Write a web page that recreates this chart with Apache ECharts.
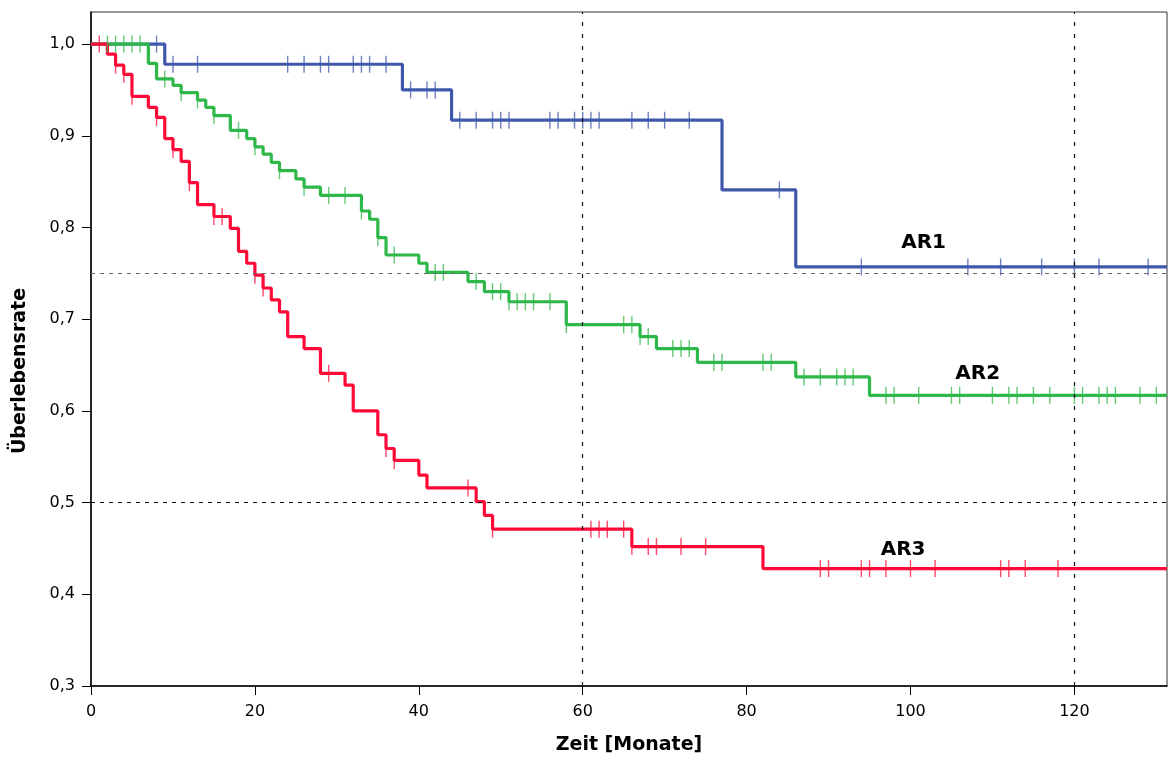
<!DOCTYPE html>
<html>
<head>
<meta charset="utf-8">
<title>Überlebensrate</title>
<script src="https://cdn.jsdelivr.net/npm/echarts@6/dist/echarts.min.js"></script>
<style>
  html, body { margin: 0; padding: 0; background: #fff; }
  #chart { width: 1169px; height: 760px; }
</style>
</head>
<body>
<div id="chart"></div>
<script>
// Kaplan–Meier estimates per group: event times [months] and survival after each step
const groupNames = ['AR1', 'AR2', 'AR3'];

const ar1Times = [0, 9, 38, 44, 77, 86];
const ar1Surv  = [1.0, 0.978, 0.950, 0.917, 0.841, 0.757];
const ar1Censored = [8, 10, 13, 24, 26, 28, 29, 32, 33, 34, 36, 39, 41, 42, 45, 47, 49, 50, 51,
  56, 57, 59, 60, 61, 62, 66, 68, 70, 73, 84, 94, 107, 111, 116, 120, 123, 129];

const ar2Times = [0, 7, 8, 10, 11, 13, 14, 15, 17, 19, 20, 21, 22, 23, 25, 26, 28, 33, 34, 35,
  36, 40, 41, 46, 48, 51, 58, 67, 69, 74, 86, 95];
const ar2Surv  = [1.0, 0.979, 0.962, 0.955, 0.947, 0.939, 0.931, 0.922, 0.906, 0.897, 0.888,
  0.880, 0.871, 0.862, 0.853, 0.844, 0.835, 0.818, 0.809, 0.789, 0.770, 0.761, 0.751, 0.741,
  0.730, 0.719, 0.694, 0.681, 0.668, 0.653, 0.637, 0.617];
const ar2Censored = [2, 3, 4, 5, 6, 9, 11, 13, 15, 18, 20, 23, 26, 29, 31, 33, 35, 37, 42, 43,
  47, 49, 50, 51, 52, 53, 54, 56, 58, 65, 66, 67, 68, 71, 72, 73, 76, 77, 82, 83, 87, 89, 91,
  92, 93, 97, 98, 101, 105, 106, 110, 112, 113, 115, 117, 120, 121, 123, 124, 125, 128, 130];

const ar3Times = [0, 2, 3, 4, 5, 7, 8, 9, 10, 11, 12, 13, 15, 17, 18, 19, 20, 21, 22, 23, 24,
  26, 28, 31, 32, 35, 36, 37, 40, 41, 47, 48, 49, 66, 82];
const ar3Surv  = [1.0, 0.989, 0.977, 0.967, 0.943, 0.931, 0.920, 0.897, 0.885, 0.872, 0.849,
  0.825, 0.812, 0.799, 0.774, 0.761, 0.748, 0.734, 0.721, 0.708, 0.681, 0.668, 0.641, 0.628,
  0.600, 0.574, 0.559, 0.546, 0.530, 0.516, 0.501, 0.486, 0.471, 0.452, 0.428];
const ar3Censored = [1, 3, 4, 5, 8, 10, 12, 15, 16, 20, 21, 29, 36, 37, 46, 49, 61, 62, 63, 65,
  66, 68, 69, 72, 75, 89, 90, 94, 95, 97, 100, 103, 111, 112, 114, 118];

// end of follow-up shown on the time axis
const followUpEnd = 131.3;

const xTicks = [0, 20, 40, 60, 80, 100, 120];
const yTicks = [0.3, 0.4, 0.5, 0.6, 0.7, 0.8, 0.9, 1.0];

// reference lines (quartiles of survival and 5/10 years)
const refSurvival = [0.75, 0.5];
const refMonths = [60, 120];

// where the group names sit, in data units
const groupLabelAt = { AR1: [101.6, 0.783], AR2: [108.2, 0.641], AR3: [99.1, 0.448] };

const colors = { AR1: '#3f58ab', AR2: '#2fb84a', AR3: '#ff0a38' };
const font = 'DejaVu Sans, Verdana, sans-serif';

const groups = {
  AR1: { t: ar1Times, s: ar1Surv, c: ar1Censored },
  AR2: { t: ar2Times, s: ar2Surv, c: ar2Censored },
  AR3: { t: ar3Times, s: ar3Surv, c: ar3Censored }
};

// survival value of a step curve at time x
function survivalAt(g, x) {
  let v = g.s[0];
  for (let i = 0; i < g.t.length; i++) if (g.t[i] <= x) v = g.s[i];
  return v;
}

const series = [];
groupNames.forEach(name => {
  const g = groups[name];
  const pts = g.t.map((t, i) => [t, g.s[i]]);
  pts.push([followUpEnd, g.s[g.s.length - 1]]);
  series.push({
    name, type: 'line', step: 'end', data: pts, showSymbol: false, z: 3,
    lineStyle: { color: colors[name], width: 3.2 }, itemStyle: { color: colors[name] }
  });
  series.push({
    name: name + ' zensiert', type: 'scatter', z: 4, silent: true,
    symbol: 'rect', symbolSize: [1.4, 17],
    itemStyle: { color: colors[name], opacity: 0.75 },
    data: g.c.map(t => [t, survivalAt(g, t)])
  });
});

// group labels
series.push({
  type: 'scatter', silent: true, symbolSize: 0, z: 6,
  itemStyle: { opacity: 1 },
  data: groupNames.map(n => ({ name: n, value: groupLabelAt[n] })),
  label: {
    show: true, position: 'inside', formatter: p => p.name,
    fontFamily: font, fontWeight: 'bold', fontSize: 20, color: '#000',
    textBorderWidth: 0
  }
});

// dashed reference lines drawn above the curves
series.push({
  type: 'line', data: [], z: 5, silent: true,
  markLine: {
    silent: true, symbol: 'none', animation: false, label: { show: false },
    data: [
      { yAxis: refSurvival[0], lineStyle: { color: '#666', type: [4, 5], width: 1.2 } },
      { yAxis: refSurvival[1], lineStyle: { color: '#111', type: [4, 5], width: 1 } },
      { xAxis: refMonths[0], lineStyle: { color: '#111', type: [4, 8], width: 1.2 } },
      { xAxis: refMonths[1], lineStyle: { color: '#111', type: [4, 8], width: 1.2 } }
    ]
  }
});

const chart = echarts.init(document.getElementById('chart'), null, { renderer: 'canvas' });
chart.setOption({
  animation: false,
  backgroundColor: '#fff',
  grid: { left: 91, right: 2, top: 12, bottom: 72, show: true, borderColor: '#333', borderWidth: 1 },
  xAxis: {
    type: 'value', min: 0, max: followUpEnd, interval: 20,
    axisLine: { lineStyle: { color: '#000', width: 1.5 } },
    axisTick: { customValues: xTicks, length: 9, lineStyle: { color: '#000', width: 1 } },
    axisLabel: { customValues: xTicks, margin: 18, color: '#000', fontFamily: font, fontSize: 16 },
    splitLine: { show: false },
    name: 'Zeit [Monate]', nameLocation: 'middle', nameGap: 50,
    nameTextStyle: { color: '#000', fontFamily: font, fontWeight: 'bold', fontSize: 19 }
  },
  yAxis: {
    type: 'value', min: 0.3, max: 1.035, interval: 0.1,
    axisLine: { show: true, lineStyle: { color: '#000', width: 1.5 } },
    axisTick: { show: true, customValues: yTicks, length: 9, lineStyle: { color: '#000', width: 1 } },
    axisLabel: {
      customValues: yTicks, margin: 16, color: '#000', fontFamily: font, fontSize: 16,
      formatter: v => v.toFixed(1).replace('.', ',')
    },
    splitLine: { show: false }
  },
  graphic: [{
    type: 'text', x: 20, y: 371, rotation: Math.PI / 2, silent: true,
    style: {
      text: 'Überlebensrate', align: 'center', verticalAlign: 'middle',
      fill: '#000', font: 'bold 19px ' + font
    }
  }],
  series
});
</script>
</body>
</html>
